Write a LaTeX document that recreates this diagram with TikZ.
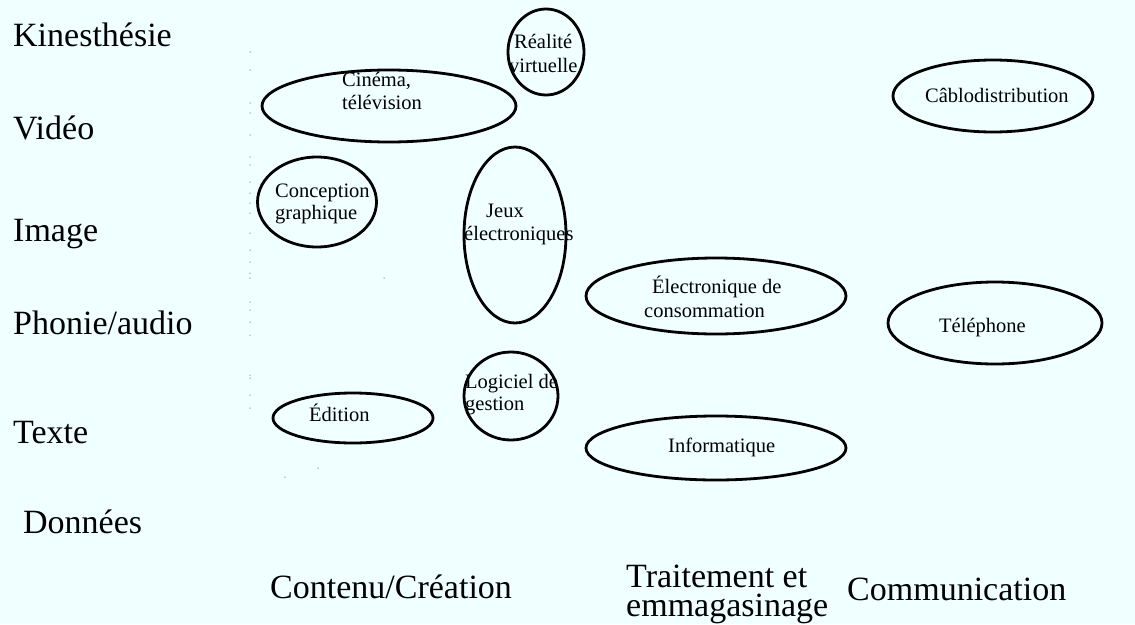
\documentclass[tikz,border=0pt]{standalone}
\usepackage{fontspec}
\setmainfont{Liberation Serif}
\usetikzlibrary{shapes.geometric}
\definecolor{paper}{RGB}{240,255,255}
\definecolor{speck}{RGB}{150,160,160}
\begin{document}
\begin{tikzpicture}[x=1pt,y=-1pt,
  axislabel/.style={font=\fontsize{34}{29}\selectfont, anchor=base west, inner sep=0pt},
  sector/.style={draw=black, line width=2.8pt, ellipse, inner sep=0pt},
  sectortext/.style={font=\fontsize{20.5}{24}\selectfont, anchor=base west, inner sep=0pt},
  speckdot/.style={fill=speck, draw=none, circle, inner sep=0pt, minimum size=1.5pt}]
\fill[paper] (0,0) rectangle (1135,624);
\useasboundingbox (0,0) rectangle (1135,624);

% media types (rows)
\node[axislabel] (kin)  at (13,46)  {Kinesthésie};
\node[axislabel] (vid)  at (13,139) {Vidéo};
\node[axislabel] (img)  at (13,241) {Image};
\node[axislabel] (aud)  at (13,334) {Phonie/audio};
\node[axislabel] (txt)  at (13,443) {Texte};
\node[axislabel] (dat)  at (23,533) {Données};

% industry stages (columns)
\node[axislabel] (cont) at (270,598) {Contenu/Création};
\node[axislabel, align=left] (trt) at (626,616) {Traitement et\\emmagasinage};
\node[axislabel] (comm) at (847,600) {Communication};

% sectors
\node[sector, minimum width=76pt,  minimum height=86pt] (rv)   at (546,52)  {};
\node[sectortext] (rv1) at (514,48) {Réalité};
\node[sectortext] (rv2) at (509,72) {virtuelle};

\node[sector, minimum width=254pt, minimum height=72pt] (cin)  at (389,106) {};
\node[sectortext] (cin1) at (342,86)  {Cinéma,};
\node[sectortext] (cin2) at (342,109) {télévision};

\node[sector, minimum width=119pt, minimum height=90pt] (cg)   at (317,202) {};
\node[sectortext] (cg1) at (275,197) {Conception};
\node[sectortext] (cg2) at (275,219) {graphique};

\node[sector, minimum width=102pt, minimum height=176pt] (jeux) at (515,235) {};
\node[sectortext] (jeux1) at (486,217) {Jeux};
\node[sectortext] (jeux2) at (464,240) {électroniques};

\node[sector, minimum width=94pt,  minimum height=88pt] (log)  at (511,396) {};
\node[sectortext] (log1) at (465,388) {Logiciel de};
\node[sectortext] (log2) at (465,410) {gestion};

\node[sector, minimum width=160pt, minimum height=50pt] (ed)   at (353,418) {};
\node[sectortext] (ed1) at (309,421) {Édition};

\node[sector, minimum width=260pt, minimum height=76pt] (elec) at (716,296) {};
\node[sectortext] (elec1) at (652,293) {Électronique de};
\node[sectortext] (elec2) at (644,317) {consommation};

\node[sector, minimum width=260pt, minimum height=64pt] (info) at (716,448) {};
\node[sectortext] (info1) at (668,452) {Informatique};

\node[sector, minimum width=200pt, minimum height=72pt] (cab)  at (993,96)  {};
\node[sectortext] (cab1) at (925,102) {Câblodistribution};

\node[sector, minimum width=214pt, minimum height=82pt] (tel)  at (995,323) {};
\node[sectortext] (tel1) at (939,332) {Téléphone};

% faint dotted guide beside the content column
\foreach \yy in {52,70,103,113,135,157,165,182,193,203,213,233,250,262,273,278,302,310,322,335,375,378,395,408}
  \node[speckdot] at (250,\yy) {};
\node[speckdot] at (384,278) {};
\node[speckdot] at (285,477) {};
\node[speckdot] at (318,468) {};
\end{tikzpicture}
\end{document}
